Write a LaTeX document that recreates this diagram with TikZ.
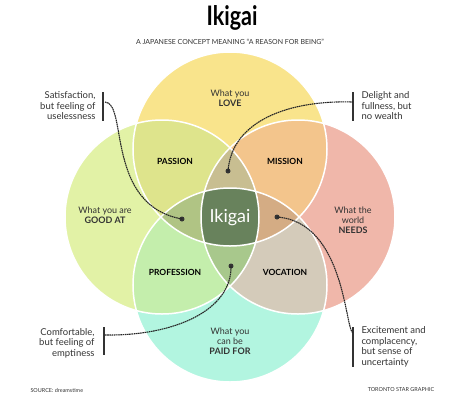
\documentclass[tikz,border=0pt]{standalone}
\usepackage{fontspec}
\setmainfont{Lato}

\definecolor{lovecol}{HTML}{F9E48C}
\definecolor{goodcol}{HTML}{E2F2A6}
\definecolor{needscol}{HTML}{F0B7AA}
\definecolor{paidcol}{HTML}{B2F5E0}
\definecolor{passioncol}{HTML}{DEE48C}
\definecolor{missioncol}{HTML}{F3C58C}
\definecolor{professioncol}{HTML}{C4EEAC}
\definecolor{vocationcol}{HTML}{D4CBBA}
\definecolor{topcol}{HTML}{C8BE91}
\definecolor{leftcol}{HTML}{B0C484}
\definecolor{rightcol}{HTML}{D4AC84}
\definecolor{bottomcol}{HTML}{A8C88C}
\definecolor{ikigaicol}{HTML}{68825C}
\definecolor{inkcol}{HTML}{333333}

\tikzset{
    circle label/.style={
        align=center,text=inkcol,
        font=\fontsize{9}{10}\selectfont
    },
    region label/.style={
        text=black,
        font=\fontsize{8.5}{10}\selectfont\bfseries
    },
    note/.style={
        text=inkcol,
        font=\fontsize{9.5}{10.5}\selectfont
    },
    note bar/.style={line width=1.8bp,inkcol},
    note link/.style={line width=1.1bp,black!85,dash pattern=on 1.6bp off .6bp},
    note dot/.style={circle,fill=black!80,inner sep=0pt,minimum size=5bp}
}

\begin{document}
\begin{tikzpicture}[x=1bp,y=1bp]
        \useasboundingbox (-230,-183) rectangle (235,217);
        \def\R{97}
        \coordinate (love) at (0,68);
        \coordinate (good) at (-68,0);
        \coordinate (needs) at (68,0);
        \coordinate (paid) at (0,-68);
        % the four circles and their overlaps
        \foreach \c in {love,good,needs,paid}
            \fill[\c col] (\c) circle (\R);
        \foreach \a/\b/\col in {love/good/passion,love/needs/mission,good/paid/profession,needs/paid/vocation}{
            \begin{scope}
                \clip (\a) circle (\R);
                \fill[\col col] (\b) circle (\R);
            \end{scope}
        }
        \foreach \a/\b/\c/\col in {love/good/needs/top,love/good/paid/left,love/needs/paid/right,good/needs/paid/bottom}{
            \begin{scope}
                \clip (\a) circle (\R);
                \clip (\b) circle (\R);
                \fill[\col col] (\c) circle (\R);
            \end{scope}
        }
        \begin{scope}
            \clip (love) circle (\R);
            \clip (good) circle (\R);
            \clip (needs) circle (\R);
            \fill[ikigaicol] (paid) circle (\R);
        \end{scope}
        \foreach \c in {love,good,needs,paid}
            \draw[white,line width=1.5bp] (\c) circle (\R);

        % titles
        \node[font=\fontsize{27}{28}\selectfont\bfseries,xscale=.8,transform shape] (title) at (2,199) {Ikigai};
        \node[font=\fontsize{7}{8}\selectfont,text=inkcol] (subtitle) at (0,175) {A JAPANESE CONCEPT MEANING “A REASON FOR BEING”};

        % circle and region labels
        \node[circle label] (lovelabel) at (0,119) {What you\\\textbf{LOVE}};
        \node[circle label] (goodlabel) at (-125,2) {What you are\\\textbf{GOOD AT}};
        \node[circle label] (needslabel) at (123,-3) {What the\\world\\\textbf{NEEDS}};
        \node[circle label] (paidlabel) at (0,-124) {What you\\can be\\\textbf{PAID FOR}};
        \foreach \name/\x/\y in {PASSION/-55/56,MISSION/55/56,PROFESSION/-55/-55,VOCATION/55/-55}
            \node[region label] (\name) at (\x,\y) {\name};
        \node[text=white,font=\fontsize{18}{19}\selectfont] (ikigai) at (0,-1) {Ikigai};

        % notes
        \node[note,anchor=east,align=right] (useless) at (-131,111) {Satisfaction,\\but feeling of\\uselessness};
        \node[note,anchor=west,align=left] (wealth) at (128,111) {Delight and\\fullness, but\\no wealth};
        \node[note,anchor=east,align=right] (empty) at (-132,-126) {Comfortable,\\but feeling of\\emptiness};
        \node[note,anchor=west,align=left] (uncertain) at (128,-130) {Excitement and\\complacency,\\but sense of\\uncertainty};
        \draw[note bar] (-127,125) -- (-127,96);
        \draw[note bar] (123,125) -- (123,96);
        \draw[note bar] (-126,-110) -- (-126,-138);
        \draw[note bar] (123,-110) -- (123,-150);
        \coordinate (useless bar) at (-125,115);
        \coordinate (wealth bar) at (123,115);
        \coordinate (empty bar) at (-125,-118);
        \coordinate (uncertain bar) at (123,-116);
        \node[note dot] (useless dot) at (-48,-2) {};
        \node[note dot] (wealth dot) at (-2,46) {};
        \node[note dot] (empty dot) at (1,-49) {};
        \node[note dot] (uncertain dot) at (47,0) {};
        \draw[note link] (useless bar) .. controls +(23,-1) and +(-77,14) .. (useless dot.center);
        \draw[note link] (wealth bar) .. controls +(-63,2) and +(4,51) .. (wealth dot.center);
        \draw[note link] (empty bar) .. controls +(70,-1) and +(1,-44) .. (empty dot.center);
        \draw[note link] (uncertain dot.center) .. controls +(68,-5) and +(-8,3) .. (uncertain bar);

        % sources
        \node[font=\fontsize{5.5}{6}\selectfont,text=inkcol,anchor=west] (source) at (-203,-173) {SOURCE: dreamstime};
        \node[font=\fontsize{5.5}{6}\selectfont,text=inkcol] (credit) at (171,-173) {TORONTO STAR GRAPHIC};
    \end{tikzpicture}
\end{document}
